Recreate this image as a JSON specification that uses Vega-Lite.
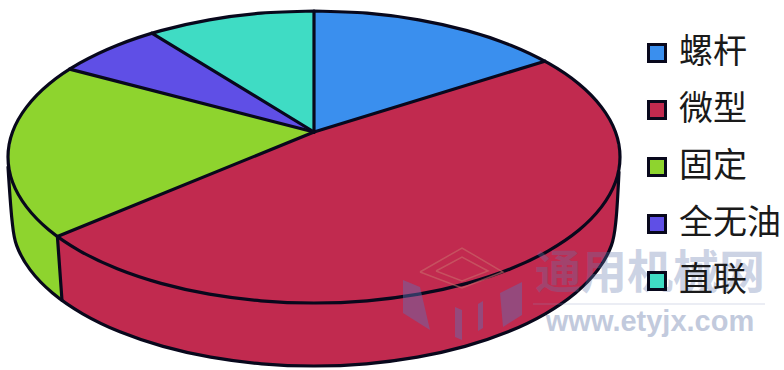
{
  "$schema": "https://vega.github.io/schema/vega-lite/v6.json",
  "width": 784,
  "height": 370,
  "padding": 0,
  "autosize": "none",
  "background": "white",
  "view": {"stroke": null},
  "layer": [
    {
      "data": {"values": [
        {"slice":"微型","piece":"wall-a","seq":0,"x":619,"y":172},
        {"slice":"微型","piece":"wall-a","seq":1,"x":616,"y":220},
        {"slice":"微型","piece":"wall-a","seq":2,"x":611.4,"y":245.4},
        {"slice":"微型","piece":"wall-a","seq":3,"x":597.8,"y":269.9},
        {"slice":"微型","piece":"wall-a","seq":4,"x":575.5,"y":293},
        {"slice":"微型","piece":"wall-a","seq":5,"x":545.3,"y":313.8},
        {"slice":"微型","piece":"wall-a","seq":6,"x":508.1,"y":331.8},
        {"slice":"微型","piece":"wall-a","seq":7,"x":465,"y":346.4},
        {"slice":"微型","piece":"wall-a","seq":8,"x":417.3,"y":357.2},
        {"slice":"微型","piece":"wall-a","seq":9,"x":366.4,"y":363.8},
        {"slice":"微型","piece":"wall-a","seq":10,"x":314,"y":366},
        {"slice":"微型","piece":"wall-a","seq":11,"x":261.6,"y":363.8},
        {"slice":"微型","piece":"wall-a","seq":12,"x":210.7,"y":357.2},
        {"slice":"微型","piece":"wall-a","seq":13,"x":163,"y":346.4},
        {"slice":"微型","piece":"wall-a","seq":14,"x":119.9,"y":331.8},
        {"slice":"微型","piece":"wall-a","seq":15,"x":82.7,"y":313.8},
        {"slice":"微型","piece":"wall-a","seq":16,"x":62,"y":300.5},
        {"slice":"微型","piece":"wall-a","seq":17,"x":57.4,"y":236.5},
        {"slice":"微型","piece":"wall-a","seq":18,"x":314,"y":250},

        {"slice":"固定","piece":"wall-b","seq":0,"x":57.4,"y":236.5},
        {"slice":"固定","piece":"wall-b","seq":1,"x":62,"y":300.5},
        {"slice":"固定","piece":"wall-b","seq":2,"x":52.5,"y":293},
        {"slice":"固定","piece":"wall-b","seq":3,"x":30.2,"y":269.9},
        {"slice":"固定","piece":"wall-b","seq":4,"x":16.6,"y":245.4},
        {"slice":"固定","piece":"wall-b","seq":5,"x":12,"y":220},
        {"slice":"固定","piece":"wall-b","seq":6,"x":8,"y":167},

        {"slice":"螺杆","piece":"top-a","seq":0,"x":314,"y":132},
        {"slice":"螺杆","piece":"top-a","seq":1,"x":314,"y":11},
        {"slice":"螺杆","piece":"top-a","seq":2,"x":367.1,"y":13.2},
        {"slice":"螺杆","piece":"top-a","seq":3,"x":418.7,"y":19.8},
        {"slice":"螺杆","piece":"top-a","seq":4,"x":467,"y":30.6},
        {"slice":"螺杆","piece":"top-a","seq":5,"x":510.7,"y":45.2},
        {"slice":"螺杆","piece":"top-a","seq":6,"x":544.9,"y":61.2},

        {"slice":"微型","piece":"top-b","seq":0,"x":314,"y":132},
        {"slice":"微型","piece":"top-b","seq":1,"x":544.9,"y":61.2},
        {"slice":"微型","piece":"top-b","seq":2,"x":579,"y":84},
        {"slice":"微型","piece":"top-b","seq":3,"x":601.5,"y":107.1},
        {"slice":"微型","piece":"top-b","seq":4,"x":615.4,"y":131.7},
        {"slice":"微型","piece":"top-b","seq":5,"x":620,"y":157},
        {"slice":"微型","piece":"top-b","seq":6,"x":615.4,"y":182.3},
        {"slice":"微型","piece":"top-b","seq":7,"x":601.5,"y":206.9},
        {"slice":"微型","piece":"top-b","seq":8,"x":579,"y":230},
        {"slice":"微型","piece":"top-b","seq":9,"x":548.4,"y":250.8},
        {"slice":"微型","piece":"top-b","seq":10,"x":510.7,"y":268.8},
        {"slice":"微型","piece":"top-b","seq":11,"x":467,"y":283.4},
        {"slice":"微型","piece":"top-b","seq":12,"x":418.7,"y":294.2},
        {"slice":"微型","piece":"top-b","seq":13,"x":367.1,"y":300.8},
        {"slice":"微型","piece":"top-b","seq":14,"x":314,"y":303},
        {"slice":"微型","piece":"top-b","seq":15,"x":260.9,"y":300.8},
        {"slice":"微型","piece":"top-b","seq":16,"x":209.3,"y":294.2},
        {"slice":"微型","piece":"top-b","seq":17,"x":161,"y":283.4},
        {"slice":"微型","piece":"top-b","seq":18,"x":117.3,"y":268.8},
        {"slice":"微型","piece":"top-b","seq":19,"x":79.6,"y":250.8},
        {"slice":"微型","piece":"top-b","seq":20,"x":57.4,"y":236.5},

        {"slice":"固定","piece":"top-c","seq":0,"x":314,"y":132},
        {"slice":"固定","piece":"top-c","seq":1,"x":57.4,"y":236.5},
        {"slice":"固定","piece":"top-c","seq":2,"x":26.5,"y":206.9},
        {"slice":"固定","piece":"top-c","seq":3,"x":12.6,"y":182.3},
        {"slice":"固定","piece":"top-c","seq":4,"x":8,"y":157},
        {"slice":"固定","piece":"top-c","seq":5,"x":12.6,"y":131.7},
        {"slice":"固定","piece":"top-c","seq":6,"x":26.5,"y":107.1},
        {"slice":"固定","piece":"top-c","seq":7,"x":49,"y":84},
        {"slice":"固定","piece":"top-c","seq":8,"x":69.6,"y":69.1},

        {"slice":"全无油","piece":"top-d","seq":0,"x":314,"y":132},
        {"slice":"全无油","piece":"top-d","seq":1,"x":69.6,"y":69.1},
        {"slice":"全无油","piece":"top-d","seq":2,"x":117.3,"y":45.2},
        {"slice":"全无油","piece":"top-d","seq":3,"x":151.8,"y":33.2},

        {"slice":"直联","piece":"top-e","seq":0,"x":314,"y":132},
        {"slice":"直联","piece":"top-e","seq":1,"x":151.8,"y":33.2},
        {"slice":"直联","piece":"top-e","seq":2,"x":209.3,"y":19.8},
        {"slice":"直联","piece":"top-e","seq":3,"x":260.9,"y":13.2},
        {"slice":"直联","piece":"top-e","seq":4,"x":314,"y":11}
      ]},
      "mark": {"type": "line", "strokeOpacity": 0},
      "encoding": {
        "x": {"field": "x", "type": "quantitative", "scale": {"domain": [0, 784]}, "axis": null},
        "y": {"field": "y", "type": "quantitative", "scale": {"domain": [370, 0]}, "axis": null},
        "detail": {"field": "piece"},
        "order": {"field": "seq", "type": "quantitative"},
        "fill": {
          "field": "slice",
          "type": "nominal",
          "scale": {
            "domain": ["螺杆", "微型", "固定", "全无油", "直联"],
            "range": ["#3a8fee", "#c12a4f", "#8ed42e", "#5f4fe6", "#3fdcc4"]
          },
          "legend": {
            "title": null,
            "orient": "none",
            "legendX": 640,
            "legendY": 36,
            "padding": 0,
            "symbolType": "square",
            "symbolSize": 289,
            "symbolStrokeColor": "#08081c",
            "symbolStrokeWidth": 3,
            "symbolOpacity": 1,
            "labelFont": "Noto Sans CJK SC",
            "labelFontSize": 34,
            "labelColor": "#1a1a1a",
            "labelOffset": 5,
            "labelLimit": 200,
            "rowPadding": 23
          }
        }
      }
    },
    {
      "data": {"values": [
        {"edge":"spoke-1","seq":0,"x":314,"y":132},{"edge":"spoke-1","seq":1,"x":314,"y":11},
        {"edge":"spoke-2","seq":0,"x":314,"y":132},{"edge":"spoke-2","seq":1,"x":544.9,"y":61.2},
        {"edge":"spoke-3","seq":0,"x":314,"y":132},{"edge":"spoke-3","seq":1,"x":57.4,"y":236.5},
        {"edge":"spoke-4","seq":0,"x":314,"y":132},{"edge":"spoke-4","seq":1,"x":69.6,"y":69.1},
        {"edge":"spoke-5","seq":0,"x":314,"y":132},{"edge":"spoke-5","seq":1,"x":151.8,"y":33.2},
        {"edge":"seam","seq":0,"x":57.4,"y":236.5},{"edge":"seam","seq":1,"x":62,"y":300.5}
      ]},
      "mark": {"type": "line", "stroke": "#08081c", "strokeWidth": 3.2, "strokeCap": "round"},
      "encoding": {
        "x": {"field": "x", "type": "quantitative", "scale": {"domain": [0, 784]}, "axis": null},
        "y": {"field": "y", "type": "quantitative", "scale": {"domain": [370, 0]}, "axis": null},
        "detail": {"field": "edge"},
        "order": {"field": "seq", "type": "quantitative"}
      }
    },
    {
      "data": {"values": [
        {"edge":"rim","seq":0,"x":314,"y":11},
        {"edge":"rim","seq":1,"x":367.1,"y":13.2},
        {"edge":"rim","seq":2,"x":418.7,"y":19.8},
        {"edge":"rim","seq":3,"x":467,"y":30.6},
        {"edge":"rim","seq":4,"x":510.7,"y":45.2},
        {"edge":"rim","seq":5,"x":548.4,"y":63.2},
        {"edge":"rim","seq":6,"x":579,"y":84},
        {"edge":"rim","seq":7,"x":601.5,"y":107.1},
        {"edge":"rim","seq":8,"x":615.4,"y":131.7},
        {"edge":"rim","seq":9,"x":620,"y":157},
        {"edge":"rim","seq":10,"x":615.4,"y":182.3},
        {"edge":"rim","seq":11,"x":601.5,"y":206.9},
        {"edge":"rim","seq":12,"x":579,"y":230},
        {"edge":"rim","seq":13,"x":548.4,"y":250.8},
        {"edge":"rim","seq":14,"x":510.7,"y":268.8},
        {"edge":"rim","seq":15,"x":467,"y":283.4},
        {"edge":"rim","seq":16,"x":418.7,"y":294.2},
        {"edge":"rim","seq":17,"x":367.1,"y":300.8},
        {"edge":"rim","seq":18,"x":314,"y":303},
        {"edge":"rim","seq":19,"x":260.9,"y":300.8},
        {"edge":"rim","seq":20,"x":209.3,"y":294.2},
        {"edge":"rim","seq":21,"x":161,"y":283.4},
        {"edge":"rim","seq":22,"x":117.3,"y":268.8},
        {"edge":"rim","seq":23,"x":79.6,"y":250.8},
        {"edge":"rim","seq":24,"x":49,"y":230},
        {"edge":"rim","seq":25,"x":26.5,"y":206.9},
        {"edge":"rim","seq":26,"x":12.6,"y":182.3},
        {"edge":"rim","seq":27,"x":8,"y":157},
        {"edge":"rim","seq":28,"x":12.6,"y":131.7},
        {"edge":"rim","seq":29,"x":26.5,"y":107.1},
        {"edge":"rim","seq":30,"x":49,"y":84},
        {"edge":"rim","seq":31,"x":79.6,"y":63.2},
        {"edge":"rim","seq":32,"x":117.3,"y":45.2},
        {"edge":"rim","seq":33,"x":161,"y":30.6},
        {"edge":"rim","seq":34,"x":209.3,"y":19.8},
        {"edge":"rim","seq":35,"x":260.9,"y":13.2},
        {"edge":"rim","seq":36,"x":314,"y":11},

        {"edge":"base","seq":0,"x":619,"y":172},
        {"edge":"base","seq":1,"x":616,"y":220},
        {"edge":"base","seq":2,"x":611.4,"y":245.4},
        {"edge":"base","seq":3,"x":597.8,"y":269.9},
        {"edge":"base","seq":4,"x":575.5,"y":293},
        {"edge":"base","seq":5,"x":545.3,"y":313.8},
        {"edge":"base","seq":6,"x":508.1,"y":331.8},
        {"edge":"base","seq":7,"x":465,"y":346.4},
        {"edge":"base","seq":8,"x":417.3,"y":357.2},
        {"edge":"base","seq":9,"x":366.4,"y":363.8},
        {"edge":"base","seq":10,"x":314,"y":366},
        {"edge":"base","seq":11,"x":261.6,"y":363.8},
        {"edge":"base","seq":12,"x":210.7,"y":357.2},
        {"edge":"base","seq":13,"x":163,"y":346.4},
        {"edge":"base","seq":14,"x":119.9,"y":331.8},
        {"edge":"base","seq":15,"x":82.7,"y":313.8},
        {"edge":"base","seq":16,"x":52.5,"y":293},
        {"edge":"base","seq":17,"x":30.2,"y":269.9},
        {"edge":"base","seq":18,"x":16.6,"y":245.4},
        {"edge":"base","seq":19,"x":12,"y":220},
        {"edge":"base","seq":20,"x":8,"y":167}
      ]},
      "mark": {"type": "line", "stroke": "#08081c", "strokeWidth": 3.2, "interpolate": "cardinal", "strokeCap": "round"},
      "encoding": {
        "x": {"field": "x", "type": "quantitative", "scale": {"domain": [0, 784]}, "axis": null},
        "y": {"field": "y", "type": "quantitative", "scale": {"domain": [370, 0]}, "axis": null},
        "detail": {"field": "edge"},
        "order": {"field": "seq", "type": "quantitative"}
      }
    },
    {
      "data": {"values": [
        {"piece":"left","seq":0,"x":403,"y":280},
        {"piece":"left","seq":1,"x":420,"y":287},
        {"piece":"left","seq":2,"x":430,"y":330},
        {"piece":"left","seq":3,"x":403,"y":313},
        {"piece":"right","seq":0,"x":500,"y":293},
        {"piece":"right","seq":1,"x":522,"y":282},
        {"piece":"right","seq":2,"x":522,"y":315},
        {"piece":"right","seq":3,"x":503,"y":327},
        {"piece":"post","seq":0,"x":455,"y":307},
        {"piece":"post","seq":1,"x":462,"y":310},
        {"piece":"post","seq":2,"x":462,"y":340},
        {"piece":"post","seq":3,"x":455,"y":337},
        {"piece":"post-2","seq":0,"x":478,"y":304},
        {"piece":"post-2","seq":1,"x":483,"y":301},
        {"piece":"post-2","seq":2,"x":483,"y":328},
        {"piece":"post-2","seq":3,"x":478,"y":331}
      ]},
      "mark": {"type": "line", "fill": "#5f6fb4", "fillOpacity": 0.45, "strokeOpacity": 0},
      "encoding": {
        "x": {"field": "x", "type": "quantitative", "scale": {"domain": [0, 784]}, "axis": null},
        "y": {"field": "y", "type": "quantitative", "scale": {"domain": [370, 0]}, "axis": null},
        "detail": {"field": "piece"},
        "order": {"field": "seq", "type": "quantitative"}
      }
    },
    {
      "data": {"values": [
        {"piece":"outer","seq":0,"x":420,"y":272},
        {"piece":"outer","seq":1,"x":462,"y":248},
        {"piece":"outer","seq":2,"x":503,"y":272},
        {"piece":"outer","seq":3,"x":462,"y":288},
        {"piece":"outer","seq":4,"x":420,"y":272},
        {"piece":"inner","seq":0,"x":436,"y":271},
        {"piece":"inner","seq":1,"x":462,"y":257},
        {"piece":"inner","seq":2,"x":488,"y":271},
        {"piece":"inner","seq":3,"x":462,"y":281},
        {"piece":"inner","seq":4,"x":436,"y":271}
      ]},
      "mark": {"type": "line", "stroke": "#c96a6a", "strokeWidth": 1.5, "opacity": 0.6},
      "encoding": {
        "x": {"field": "x", "type": "quantitative", "scale": {"domain": [0, 784]}, "axis": null},
        "y": {"field": "y", "type": "quantitative", "scale": {"domain": [370, 0]}, "axis": null},
        "detail": {"field": "piece"},
        "order": {"field": "seq", "type": "quantitative"}
      }
    },
    {
      "data": {"values": [{"label": "通用机械网", "x": 650, "y": 274}]},
      "mark": {"type": "text", "font": "Noto Sans CJK SC", "fontWeight": "bold", "fontSize": 46, "color": "#6478ac", "opacity": 0.32, "align": "center", "baseline": "middle"},
      "encoding": {
        "x": {"field": "x", "type": "quantitative", "scale": {"domain": [0, 784]}, "axis": null},
        "y": {"field": "y", "type": "quantitative", "scale": {"domain": [370, 0]}, "axis": null},
        "text": {"field": "label"}
      }
    },
    {
      "data": {"values": [{"label": "www.etyjx.com", "x": 650, "y": 322}]},
      "mark": {"type": "text", "font": "Liberation Sans", "fontWeight": "bold", "fontSize": 29, "color": "#7a8cb4", "opacity": 0.45, "align": "center", "baseline": "middle"},
      "encoding": {
        "x": {"field": "x", "type": "quantitative", "scale": {"domain": [0, 784]}, "axis": null},
        "y": {"field": "y", "type": "quantitative", "scale": {"domain": [370, 0]}, "axis": null},
        "text": {"field": "label"}
      }
    },
    {
      "data": {"values": [{"x": 533, "x2": 765, "y": 304}]},
      "mark": {"type": "rule", "color": "#8a98bc", "opacity": 0.35, "strokeWidth": 1},
      "encoding": {
        "x": {"field": "x", "type": "quantitative", "scale": {"domain": [0, 784]}, "axis": null},
        "x2": {"field": "x2"},
        "y": {"field": "y", "type": "quantitative", "scale": {"domain": [370, 0]}, "axis": null}
      }
    }
  ]
}
